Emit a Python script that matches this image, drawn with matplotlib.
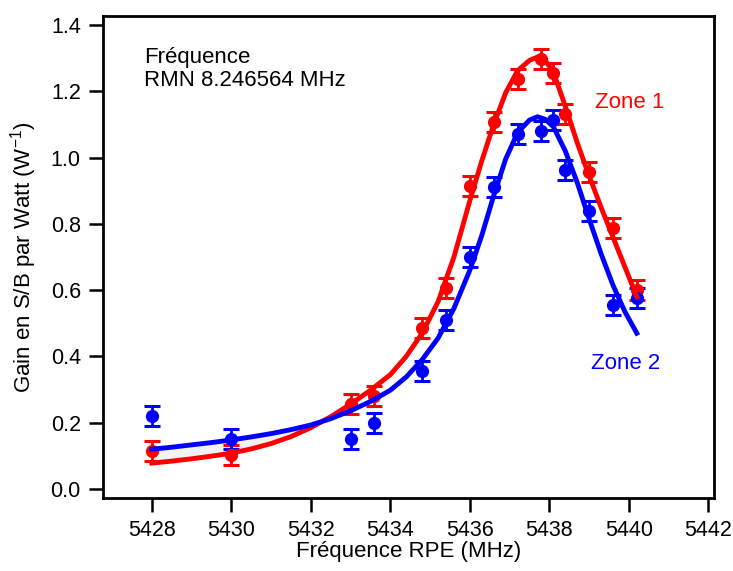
import numpy as np
import matplotlib
matplotlib.use("Agg")
import matplotlib.pyplot as plt

plt.rcParams['font.family'] = ['Liberation Sans', 'DejaVu Sans']
plt.rcParams['mathtext.fontset'] = 'custom'
plt.rcParams['mathtext.rm'] = 'Liberation Sans'
plt.rcParams['mathtext.default'] = 'regular'

# measured points (EPR frequency in MHz, gain per watt)
freq = [5428, 5430, 5433, 5433.6, 5434.8, 5435.4, 5436, 5436.6, 5437.2,
        5437.8, 5438.1, 5438.4, 5439, 5439.6, 5440.2]
zone1 = [0.115, 0.103, 0.257, 0.28, 0.486, 0.607, 0.914, 1.107, 1.237,
         1.298, 1.255, 1.131, 0.956, 0.787, 0.60]
zone2 = [0.22, 0.15, 0.15, 0.199, 0.356, 0.51, 0.70, 0.912, 1.071,
         1.08, 1.113, 0.963, 0.839, 0.555, 0.577]
err1 = [0.03] * len(freq)
err2 = [0.03] * len(freq)

# fitted curves
fit_freq = [5428, 5428.5, 5429, 5429.5, 5430, 5430.5, 5431, 5431.5, 5432,
            5432.5, 5433, 5433.5, 5434, 5434.4, 5434.8, 5435.2, 5435.6,
            5436, 5436.3, 5436.6, 5436.9, 5437.2, 5437.5, 5437.7, 5437.9,
            5438.1, 5438.4, 5438.7, 5439, 5439.3, 5439.6, 5439.9, 5440.2]
fit1 = [0.078, 0.084, 0.091, 0.099, 0.108, 0.121, 0.137, 0.158, 0.185,
        0.218, 0.256, 0.298, 0.345, 0.40, 0.47, 0.565, 0.70,
        0.87, 0.99, 1.10, 1.195, 1.262, 1.293, 1.303, 1.292,
        1.258, 1.155, 1.045, 0.945, 0.85, 0.76, 0.67, 0.58]
fit2 = [0.12, 0.126, 0.133, 0.140, 0.148, 0.157, 0.167, 0.179, 0.193,
        0.212, 0.236, 0.264, 0.298, 0.338, 0.39, 0.455, 0.545,
        0.66, 0.765, 0.885, 0.995, 1.075, 1.113, 1.123, 1.115,
        1.093, 1.02, 0.925, 0.815, 0.71, 0.615, 0.535, 0.47]

red = '#ff0000'
blue = '#0000ff'

fig = plt.figure(figsize=(7.33, 5.71), dpi=100)
ax = fig.add_axes([0.1405, 0.128, 0.834, 0.844])

f1 = np.array(fit1)
f2 = np.array(fit2)
ax.fill_between(fit_freq, f1, f2, where=(f2 > f1) & (np.array(fit_freq) < 5432.2),
                color='#f2f2f2', lw=0, zorder=1)

ax.errorbar(freq, zone1, yerr=err1, fmt='o', color=red, ms=8.5,
            elinewidth=2, capsize=6, capthick=2.2, zorder=2)
ax.errorbar(freq, zone2, yerr=err2, fmt='o', color=blue, ms=8.5,
            elinewidth=2, capsize=6, capthick=2.2, zorder=2)
ax.plot(fit_freq, fit1, color=red, lw=3.5, zorder=3, solid_joinstyle='round')
ax.plot(fit_freq, fit2, color=blue, lw=3.5, zorder=4, solid_joinstyle='round')

ax.set_xlim(5426.77, 5442.15)
ax.set_ylim(-0.027, 1.427)
ax.set_xticks(np.arange(5428, 5443, 2))
ax.set_yticks(np.arange(0, 1.41, 0.2))
ax.yaxis.set_major_formatter(matplotlib.ticker.FormatStrFormatter('%.1f'))
ax.tick_params(direction='out', length=10, width=1.8, pad=6, labelsize=15.5)
for sp in ax.spines.values():
    sp.set_linewidth(2)

ax.set_xlabel('Fréquence RPE (MHz)', fontsize=16, labelpad=0)
ax.set_ylabel('Gain en S/B par Watt (W$^{-1}$)', fontsize=16, labelpad=8)

ax.text(5427.8, 1.285, 'Fréquence', fontsize=16)
ax.text(5427.8, 1.216, 'RMN 8.246564 MHz', fontsize=16)
ax.text(5439.16, 1.150, 'Zone 1', fontsize=16, color=red)
ax.text(5439.06, 0.362, 'Zone 2', fontsize=16, color=blue)

fig.savefig('out.png', dpi=100)
